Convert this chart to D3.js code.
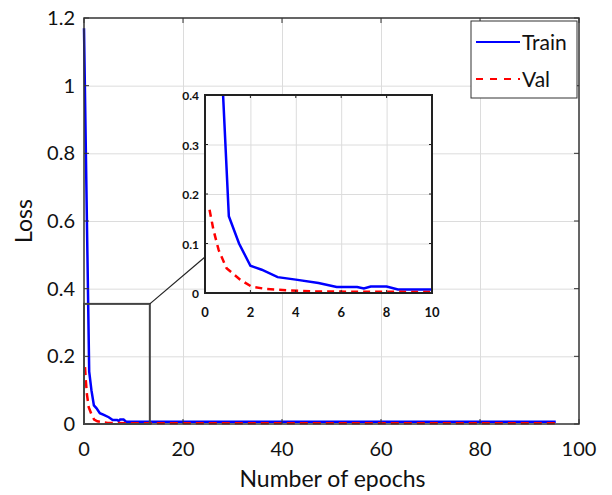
<!DOCTYPE html>
<html>
<head>
<meta charset="utf-8">
<script src="https://cdn.jsdelivr.net/npm/d3@7"></script>
<style>
  body { margin: 0; background: #fff; }
  svg { font-family: Lato, "Open Sans", sans-serif; }
  .grid line { stroke: #dcdcdc; stroke-width: 1; }
  .grid path { display: none; }
</style>
</head>
<body>
<div id="chart"></div>
<script>
// training / validation loss
var trainEpoch = [0, 1.05, 1.5, 2, 2.5, 3.2, 4, 5, 5.8, 6.7, 7, 7.3, 8, 8.5, 10, 20, 40, 60, 80, 95.3];
var trainLoss  = [1.17, 0.155, 0.10, 0.055, 0.047, 0.032, 0.027, 0.020, 0.012, 0.012, 0.009, 0.013, 0.013, 0.007, 0.007, 0.007, 0.007, 0.007, 0.007, 0.007];
var valEpoch = [0.2, 0.37, 0.6, 0.95, 1.55, 2.05, 2.7, 3.75, 4.8, 10, 20, 40, 60, 80, 95.5];
var valLoss  = [0.168, 0.128, 0.087, 0.05, 0.027, 0.013, 0.008, 0.005, 0.003, 0.002, 0.002, 0.002, 0.002, 0.002, 0.002];

var xTicks = [0, 20, 40, 60, 80, 100];
var yTicks = [0, 0.2, 0.4, 0.6, 0.8, 1, 1.2];
var insetXTicks = [0, 2, 4, 6, 8, 10];
var insetYTicks = [0, 0.1, 0.2, 0.3, 0.4];
var zoomBox = { x1: 13.3, y1: 0.355 };
var series = ["Train", "Val"];

var width = 612, height = 495;
var svg = d3.select("#chart").append("svg")
    .attr("width", width)
    .attr("height", height);

var plot = { left: 84, top: 18, right: 579, bottom: 424 };

var x = d3.scaleLinear().domain([0, 100]).range([plot.left, plot.right]);
var y = d3.scaleLinear().domain([0, 1.2]).range([plot.bottom, plot.top]);

var train = trainEpoch.map((e, i) => ({ e: e, v: trainLoss[i] }));
var val = valEpoch.map((e, i) => ({ e: e, v: valLoss[i] }));

// gridlines
svg.append("g").attr("class", "grid")
    .attr("transform", `translate(0, ${plot.bottom})`)
    .call(d3.axisBottom(x).tickValues(xTicks.slice(1, -1)).tickSize(-(plot.bottom - plot.top)).tickFormat(""));
svg.append("g").attr("class", "grid")
    .attr("transform", `translate(${plot.left}, 0)`)
    .call(d3.axisLeft(y).tickValues(yTicks.slice(1, -1)).tickSize(-(plot.right - plot.left)).tickFormat(""));

var line = d3.line().x(d => x(d.e)).y(d => y(d.v));

svg.append("path").datum(train)
    .attr("d", line)
    .attr("fill", "none").attr("stroke", "#0000ff").attr("stroke-width", 2.5);
svg.append("path").datum(val)
    .attr("d", line)
    .attr("fill", "none").attr("stroke", "#ff0000").attr("stroke-width", 2.5)
    .attr("stroke-dasharray", "8,5");

// frame with inward ticks
function frame(g, xs, ys, xt, yt, len, color, sw) {
    var x0 = xs.range()[0], x1 = xs.range()[1], y0 = ys.range()[0], y1 = ys.range()[1];
    xt.forEach(t => {
        g.append("line").attr("x1", xs(t)).attr("x2", xs(t)).attr("y1", y0).attr("y2", y0 - len)
            .attr("stroke", color).attr("stroke-width", 1);
        g.append("line").attr("x1", xs(t)).attr("x2", xs(t)).attr("y1", y1).attr("y2", y1 + len)
            .attr("stroke", color).attr("stroke-width", 1);
    });
    yt.forEach(t => {
        g.append("line").attr("x1", x0).attr("x2", x0 + len).attr("y1", ys(t)).attr("y2", ys(t))
            .attr("stroke", color).attr("stroke-width", 1);
        g.append("line").attr("x1", x1).attr("x2", x1 - len).attr("y1", ys(t)).attr("y2", ys(t))
            .attr("stroke", color).attr("stroke-width", 1);
    });
    g.append("rect").attr("x", x0).attr("y", y1).attr("width", x1 - x0).attr("height", y0 - y1)
        .attr("fill", "none").attr("stroke", color).attr("stroke-width", sw);
}
frame(svg.append("g"), x, y, xTicks, yTicks, 5, "#333", 1.5);

// tick labels
svg.append("g").selectAll("text").data(xTicks).join("text")
    .attr("x", d => x(d)).attr("y", 456)
    .attr("text-anchor", "middle")
    .attr("font-size", 20).attr("fill", "#111")
    .text(d => d);
svg.append("g").selectAll("text").data(yTicks).join("text")
    .attr("x", 75).attr("y", d => y(d) + 7)
    .attr("text-anchor", "end")
    .attr("font-size", 20).attr("fill", "#111")
    .text(d => d);

svg.append("text")
    .attr("x", (plot.left + plot.right) / 2 + 1).attr("y", 487)
    .attr("text-anchor", "middle").attr("font-size", 23).attr("fill", "#111")
    .text("Number of epochs");
svg.append("text")
    .attr("transform", `translate(32, ${(plot.top + plot.bottom) / 2}) rotate(-90)`)
    .attr("text-anchor", "middle").attr("font-size", 23).attr("fill", "#111")
    .text("Loss");

// zoom box and connector
svg.append("rect")
    .attr("x", x(0)).attr("y", y(zoomBox.y1))
    .attr("width", x(zoomBox.x1) - x(0)).attr("height", y(0) - y(zoomBox.y1))
    .attr("fill", "none").attr("stroke", "#444").attr("stroke-width", 2);

var inset = { left: 205, top: 95, right: 432, bottom: 293 };
var ix = d3.scaleLinear().domain([0, 10]).range([inset.left, inset.right]);
var iy = d3.scaleLinear().domain([0, 0.4]).range([inset.bottom, inset.top]);

svg.append("line")
    .attr("x1", x(zoomBox.x1)).attr("y1", y(zoomBox.y1))
    .attr("x2", inset.left).attr("y2", 257)
    .attr("stroke", "#222").attr("stroke-width", 1.2);

// inset
var ig = svg.append("g");
ig.append("rect").attr("x", inset.left).attr("y", inset.top)
    .attr("width", inset.right - inset.left).attr("height", inset.bottom - inset.top)
    .attr("fill", "#fff");
ig.append("g").attr("class", "grid")
    .attr("transform", `translate(0, ${inset.bottom})`)
    .call(d3.axisBottom(ix).tickValues(insetXTicks.slice(1, -1)).tickSize(-(inset.bottom - inset.top)).tickFormat(""));
ig.append("g").attr("class", "grid")
    .attr("transform", `translate(${inset.left}, 0)`)
    .call(d3.axisLeft(iy).tickValues(insetYTicks.slice(1, -1)).tickSize(-(inset.right - inset.left)).tickFormat(""));

ig.append("clipPath").attr("id", "insetClip").append("rect")
    .attr("x", inset.left).attr("y", inset.top)
    .attr("width", inset.right - inset.left).attr("height", inset.bottom - inset.top);

var iline = d3.line().x(d => ix(d.e)).y(d => iy(d.v));
var lines = ig.append("g").attr("clip-path", "url(#insetClip)");
lines.append("path").datum(train.filter(d => d.e <= 20))
    .attr("d", iline)
    .attr("fill", "none").attr("stroke", "#0000ff").attr("stroke-width", 2.5);
lines.append("path").datum(val.filter(d => d.e <= 20))
    .attr("d", iline)
    .attr("fill", "none").attr("stroke", "#ff0000").attr("stroke-width", 2.5)
    .attr("stroke-dasharray", "7,5");

frame(ig, ix, iy, insetXTicks, insetYTicks, 3, "#222", 2);

ig.append("g").selectAll("text").data(insetXTicks).join("text")
    .attr("x", d => ix(d)).attr("y", 317)
    .attr("text-anchor", "middle")
    .attr("font-size", 13).attr("font-weight", "bold").attr("fill", "#111")
    .text(d => d);
ig.append("g").selectAll("text").data(insetYTicks).join("text")
    .attr("x", 199).attr("y", d => iy(d) + 5)
    .attr("text-anchor", "end")
    .attr("font-size", 12).attr("font-weight", "bold").attr("fill", "#111")
    .text(d => d);

// legend
var lg = svg.append("g");
lg.append("rect").attr("x", 471).attr("y", 21).attr("width", 106).attr("height", 77)
    .attr("fill", "#fff").attr("stroke", "#333").attr("stroke-width", 1);
var legendY = d3.scalePoint().domain(series).range([42, 79]);
lg.selectAll("line").data(series).join("line")
    .attr("x1", 476).attr("x2", 520)
    .attr("y1", d => legendY(d)).attr("y2", d => legendY(d))
    .attr("stroke", d => d === "Train" ? "#0000ff" : "#ff0000")
    .attr("stroke-width", 2)
    .attr("stroke-dasharray", d => d === "Train" ? null : "7,7");
lg.selectAll("text").data(series).join("text")
    .attr("x", 522).attr("y", d => legendY(d) + 8)
    .attr("font-size", 21).attr("fill", "#111")
    .text(d => d);
</script>
</body>
</html>
